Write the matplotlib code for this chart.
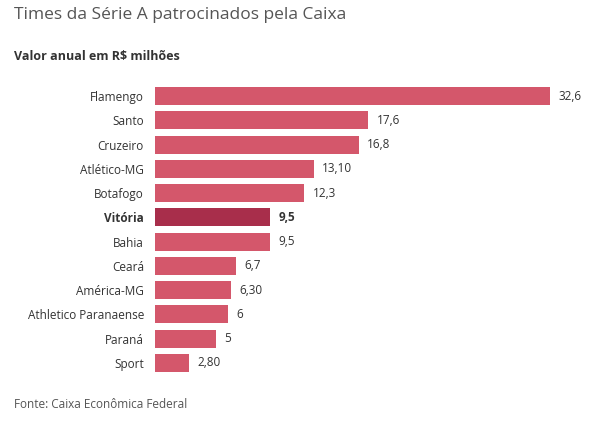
import matplotlib
matplotlib.use("Agg")
import matplotlib.pyplot as plt

plt.rcParams['font.family'] = ['Open Sans', 'DejaVu Sans']

# dados
times = ["Flamengo", "Santo", "Cruzeiro", "Atlético-MG", "Botafogo", "Vitória",
         "Bahia", "Ceará", "América-MG", "Athletico Paranaense", "Paraná", "Sport"]
valores = [32.6, 17.6, 16.8, 13.10, 12.3, 9.5, 9.5, 6.7, 6.30, 6, 5, 2.80]
rotulos = ["32,6", "17,6", "16,8", "13,10", "12,3", "9,5", "9,5", "6,7", "6,30", "6", "5", "2,80"]
destaque = "Vitória"

W, H = 593, 426
fig = plt.figure(figsize=(W / 100, H / 100), dpi=100)
ax = fig.add_axes([155 / W, 1 - 375 / H, 424 / W, (375 - 84) / H])

y = list(range(len(times)))
cores = ["#a82e4b" if t == destaque else "#d4576b" for t in times]
ax.barh(y, valores, height=0.74, color=cores)
ax.set_xlim(0, 35)
ax.set_ylim(len(times) - 0.5, -0.5)
ax.set_yticks(y)
ax.set_yticklabels(times, fontsize=8.5, color="#333333")
for lbl, t in zip(ax.get_yticklabels(), times):
    if t == destaque:
        lbl.set_fontweight("bold")
ax.tick_params(axis="y", length=0, pad=8)
ax.set_xticks([])
for s in ax.spines.values():
    s.set_visible(False)

for yi, v, r, t in zip(y, valores, rotulos, times):
    ax.text(v + 0.7, yi, r, va="center", ha="left", fontsize=8.5, color="#333333",
            fontweight="bold" if t == destaque else "normal")

fig.text(14 / W, 1 - 15 / H, "Times da Série A patrocinados pela Caixa",
         fontsize=12.5, color="#555555", va="center")
fig.text(14 / W, 1 - 57 / H, "Valor anual em R$ milhões",
         fontsize=9, fontweight="bold", color="#333333", va="center")
fig.text(14 / W, 1 - 405 / H, "Fonte: Caixa Econômica Federal",
         fontsize=8.5, color="#555555", va="center")

fig.savefig("out.png", dpi=100)
